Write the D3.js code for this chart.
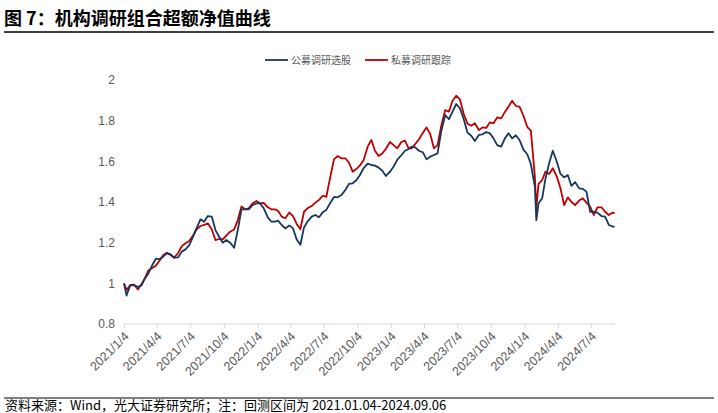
<!DOCTYPE html>
<html><head><meta charset="utf-8">
<script src="https://cdn.jsdelivr.net/npm/d3@7"></script>
<style>body{margin:0;background:#fff}</style>
</head><body>
<svg id="c" width="718" height="413"></svg>
<script>
const dates = [
"2021-01-04","2021-01-11","2021-01-21","2021-02-01","2021-02-11","2021-02-21","2021-03-01","2021-03-11","2021-03-21","2021-04-01","2021-04-11","2021-04-21",
"2021-05-01","2021-05-11","2021-05-21","2021-06-01","2021-06-11","2021-06-21","2021-07-01","2021-07-11","2021-07-21","2021-08-01","2021-08-11","2021-08-21",
"2021-09-01","2021-09-11","2021-09-21","2021-10-01","2021-10-11","2021-10-21","2021-11-01","2021-11-11","2021-11-21","2021-12-01","2021-12-11","2021-12-21",
"2022-01-01","2022-01-11","2022-01-21","2022-02-01","2022-02-11","2022-02-21","2022-03-01","2022-03-11","2022-03-21","2022-04-01","2022-04-11","2022-04-21",
"2022-05-01","2022-05-11","2022-05-21","2022-06-01","2022-06-11","2022-06-21","2022-07-01","2022-07-11","2022-07-21","2022-08-01","2022-08-11","2022-08-21",
"2022-09-01","2022-09-11","2022-09-21","2022-10-01","2022-10-11","2022-10-21","2022-11-01","2022-11-11","2022-11-21","2022-12-01","2022-12-11","2022-12-21",
"2023-01-01","2023-01-11","2023-01-21","2023-02-01","2023-02-11","2023-02-21","2023-03-01","2023-03-11","2023-03-21","2023-04-01","2023-04-11","2023-04-21",
"2023-05-01","2023-05-11","2023-05-21","2023-06-01","2023-06-11","2023-06-21","2023-07-01","2023-07-11","2023-07-21","2023-08-01","2023-08-11","2023-08-21",
"2023-09-01","2023-09-11","2023-09-21","2023-10-01","2023-10-11","2023-10-21","2023-11-01","2023-11-11","2023-11-21","2023-12-01","2023-12-11","2023-12-21",
"2024-01-01","2024-01-11","2024-01-21","2024-02-01","2024-02-05","2024-02-11","2024-02-21","2024-03-01","2024-03-11","2024-03-21",
"2024-04-01","2024-04-11","2024-04-21","2024-05-01","2024-05-11","2024-05-21","2024-06-01","2024-06-11","2024-06-21",
"2024-07-01","2024-07-11","2024-07-21","2024-08-01","2024-08-11","2024-08-21","2024-09-01","2024-09-06"
];
const publicValues = [
1.00,0.94,0.99, 0.99,0.983,0.99, 1.021,1.046,1.085, 1.121,1.118,1.131, 1.147,1.144,1.126, 1.128,1.156,1.167, 1.187,1.226,1.270, 1.315,1.303,1.331, 1.328,1.262,1.229, 1.200,1.213,1.200, 1.175,1.262,1.364, 1.364,1.364,1.385,
1.393,1.393,1.369, 1.324,1.303,1.303, 1.308,1.287,1.270, 1.285,1.270,1.216, 1.190,1.275,1.305, 1.328,1.336,1.325, 1.349,1.361,1.393, 1.425,1.423,1.434, 1.459,1.489,1.492, 1.507,1.533,1.567, 1.589,1.582,1.579, 1.569,1.554,1.528,
1.549,1.575,1.608, 1.630,1.652,1.661, 1.672,1.669,1.652, 1.644,1.610,1.623, 1.631,1.639,1.746, 1.828,1.807,1.844, 1.882,1.861,1.811, 1.741,1.726,1.700, 1.730,1.733,1.744, 1.738,1.713,1.680, 1.672,1.713,1.738, 1.713,1.728,1.705,
1.656,1.636,1.587, 1.475,1.311,1.393,1.418, 1.516,1.590,1.652, 1.598,1.538,1.521, 1.533,1.479,1.498, 1.467,1.464,1.451, 1.352,1.352,1.348, 1.331,1.328,1.287, 1.279,1.279
];
const privateValues = [
1.00,0.967,0.992, 0.993,0.970,0.997, 1.021,1.062,1.074, 1.087,1.111,1.138, 1.151,1.139,1.126, 1.149,1.183,1.197, 1.208,1.233,1.265, 1.282,1.287,1.295, 1.265,1.213,1.218, 1.216,1.236,1.254, 1.265,1.311,1.378, 1.364,1.369,1.393,
1.405,1.393,1.396, 1.374,1.364,1.364, 1.357,1.328,1.320, 1.348,1.331,1.292, 1.266,1.352,1.370, 1.380,1.397,1.410, 1.430,1.426,1.516, 1.610,1.626,1.615, 1.615,1.593,1.549, 1.562,1.580,1.607, 1.672,1.705,1.652, 1.626,1.639,1.662,
1.695,1.680,1.664, 1.695,1.702,1.664, 1.664,1.685,1.708, 1.741,1.767,1.734, 1.664,1.680,1.774, 1.852,1.844,1.898, 1.923,1.905,1.836, 1.785,1.775,1.787, 1.754,1.767,1.764, 1.792,1.787,1.816, 1.811,1.843,1.869, 1.898,1.872,1.869,
1.823,1.770,1.751, 1.525,1.370,1.489,1.508, 1.549,1.538,1.566, 1.525,1.467,1.385, 1.423,1.400,1.385, 1.407,1.418,1.397, 1.377,1.336,1.374, 1.374,1.352,1.336, 1.348,1.344
];
const seriesNames = ["公募调研选股", "私募调研跟踪"];
const seriesColors = ["#17375E", "#C00000"];
const yTicks = [0.8, 1, 1.2, 1.4, 1.6, 1.8, 2];
const xTicks = ["2021-01-04","2021-04-04","2021-07-04","2021-10-04","2022-01-04","2022-04-04","2022-07-04","2022-10-04",
"2023-01-04","2023-04-04","2023-07-04","2023-10-04","2024-01-04","2024-04-04","2024-07-04"];
const xDomain = ["2021-01-04", "2024-09-07"];
const titleText = "图 7：机构调研组合超额净值曲线";
const sourceText = "资料来源：Wind，光大证券研究所；注：回测区间为 2021.01.04-2024.09.06";

const parse = d3.timeParse("%Y-%m-%d");
const svg = d3.select("#c");
const cjk = "'Noto Sans CJK SC','Noto Sans',sans-serif";
const num = "'Liberation Sans','DejaVu Sans',sans-serif";

const x = d3.scaleTime().domain(xDomain.map(parse)).range([124, 615]);
const y = d3.scaleLinear().domain([0.8, 2]).range([324, 80]);

// title
svg.append("text").attr("x", 4).attr("y", 25).text(titleText)
  .style("font-family", cjk).style("font-size", "18px").style("font-weight", "bold").attr("fill", "#000");
svg.append("line").attr("x1", 4).attr("x2", 714).attr("y1", 32).attr("y2", 32).attr("stroke", "#000").attr("stroke-width", 1.3);

// y axis
const yAxis = svg.append("g").attr("transform", "translate(118,0)")
  .call(d3.axisLeft(y).tickValues(yTicks).tickSize(0).tickPadding(3).tickFormat(d3.format("~g")));
yAxis.select(".domain").remove();
yAxis.selectAll("text").style("font-family", num).style("font-size", "12px").attr("fill", "#595959");

// x axis
const fmt = d => `${d.getFullYear()}/${d.getMonth() + 1}/${d.getDate()}`;
const xAxis = svg.append("g").attr("transform", "translate(0,324)")
  .call(d3.axisBottom(x).tickValues(xTicks.map(parse)).tickSize(4).tickFormat(fmt));
xAxis.select(".domain").attr("stroke", "#d9d9d9").attr("d", `M${x.range()[0]},0H${x.range()[1]}`);
xAxis.selectAll(".tick line").attr("stroke", "#d9d9d9");
xAxis.selectAll("text").attr("y", 0).attr("dy", "0.35em")
  .attr("transform", "translate(2,10) rotate(-45)").style("text-anchor", "end")
  .style("font-family", num).style("font-size", "12.5px").attr("fill", "#595959");

// lines
const rows = dates.map((d, i) => ({ date: parse(d), pub: publicValues[i], pri: privateValues[i] }));
const line = key => d3.line().x(d => x(d.date)).y(d => y(d[key]));
svg.append("path").datum(rows).attr("d", line("pri")).attr("fill", "none")
  .attr("stroke", seriesColors[1]).attr("stroke-width", 1.8).attr("stroke-linejoin", "round");
svg.append("path").datum(rows).attr("d", line("pub")).attr("fill", "none")
  .attr("stroke", seriesColors[0]).attr("stroke-width", 1.8).attr("stroke-linejoin", "round");

// legend
const legendX = [265, 365];
legendX.forEach((lx, i) => {
  svg.append("line").attr("x1", lx).attr("x2", lx + 23).attr("y1", 60).attr("y2", 60)
    .attr("stroke", seriesColors[i]).attr("stroke-width", 1.8);
  svg.append("text").attr("x", lx + 26).attr("y", 60).attr("dy", "0.35em").text(seriesNames[i])
    .style("font-family", cjk).style("font-size", "10px").attr("fill", "#595959");
});

// footer
svg.append("line").attr("x1", 4).attr("x2", 714).attr("y1", 398).attr("y2", 398).attr("stroke", "#000").attr("stroke-width", 1);
svg.append("text").attr("x", 5).attr("y", 409.5).text(sourceText)
  .style("font-family", cjk).style("font-size", "13px").attr("fill", "#000");
</script>
</body></html>
